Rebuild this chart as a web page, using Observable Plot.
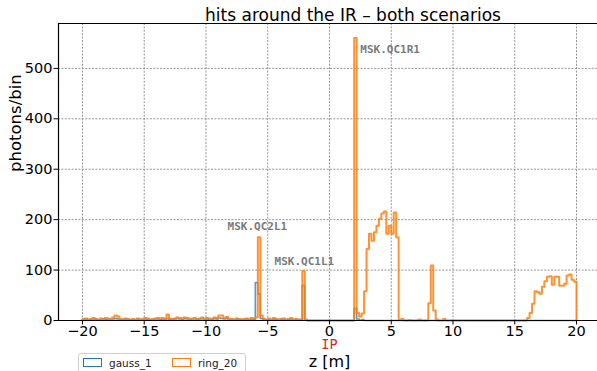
<!DOCTYPE html>
<html>
<head>
<meta charset="utf-8">
<script src="https://cdn.jsdelivr.net/npm/d3@7"></script>
<script src="https://cdn.jsdelivr.net/npm/@observablehq/plot@0.6"></script>
<style>
  body { margin: 0; background: white; overflow: hidden; }
  #wrap { position: relative; width: 597px; height: 371px; }
  #legend { position: absolute; left: 78px; top: 353px; width: 166px; height: 24px;
    border: 1px solid #d0d0d0; border-radius: 3px; background: rgba(255,255,255,0.8);
    font-family: "DejaVu Sans"; font-size: 10.5px; color: #222; }
  .patch { position: absolute; top: 4px; width: 17px; height: 7px; border-width: 1.6px; border-style: solid; }
  .lab { position: absolute; top: 3px; }
</style>
</head>
<body>
<div id="wrap"></div>
<script>
// histogram bins: 0.2 m wide from -20 m to 20 m (200 bins)
const binLo = -20, binHi = 20, nBins = 200;
const seriesNames = ["gauss_1", "ring_20"];
const seriesColors = ["#1f77b4", "#ff7f0e"];

// photons per bin, ring_20 (rows of 10 bins = 2 m)
const ring20 = [
  3,4,2,3,5,3,2,4,3,5,
  4,3,6,10,8,3,2,4,3,2,
  3,2,4,2,3,5,4,2,3,4,
  5,4,5,3,12,4,3,4,6,5,
  4,6,5,3,4,5,3,4,6,3,
  5,4,3,6,5,10,10,5,7,3,
  3,2,4,3,2,3,4,2,5,4,
  6,165,10,3,2,4,2,5,3,2,
  3,4,2,3,5,2,3,2,2,98,
  2,0,0,0,0,0,0,0,0,0,
  0,0,0,0,0,0,0,0,0,0,
  560,15,8,14,58,142,172,158,175,188,
  202,212,216,172,188,172,214,165,1,3,
  0,0,1,0,0,0,2,0,0,0,
  34,109,20,2,0,0,3,0,0,0,
  0,0,0,0,0,0,0,0,0,0,
  0,0,0,0,0,0,0,0,0,0,
  0,0,0,0,0,0,0,0,0,0,
  5,15,33,58,56,53,67,78,87,88,
  71,87,87,69,69,73,89,91,81,77
];
// photons per bin, gauss_1
const gauss1 = [
  2,3,1,2,3,2,1,2,3,2,
  3,2,3,4,3,2,1,3,2,1,
  2,1,3,2,2,3,2,1,2,3,
  3,2,3,2,4,2,2,3,4,3,
  2,4,3,2,3,3,2,3,4,2,
  3,2,2,4,3,5,4,3,4,2,
  2,1,3,2,1,2,3,1,3,2,
  75,53,4,2,1,2,1,3,2,1,
  2,3,1,2,3,1,2,1,2,69,
  1,0,0,0,0,0,0,0,0,0,
  0,0,0,0,0,0,0,0,0,0,
  24,3,1,2,0,0,0,0,0,0,
  0,0,0,0,0,0,0,0,0,0,
  0,0,0,0,0,0,0,0,0,0,
  0,0,0,0,0,0,0,0,0,0,
  0,0,0,0,0,0,0,0,0,0,
  0,0,0,0,0,0,0,0,0,0,
  0,0,0,0,0,0,0,0,0,0,
  0,0,0,0,0,0,0,0,0,0,
  0,0,0,0,0,0,0,0,0,0
];

const xTicks = [-20, -15, -10, -5, 0, 5, 10, 15, 20];
const yTicks = [0, 100, 200, 300, 400, 500];

const annLabels = ["MSK.QC1R1", "MSK.QC2L1", "MSK.QC1L1"];
const annZ = [2.5, -8.25, -4.45];
const annY = [531, 180, 111];

const titleText = "hits around the IR – both scenarios";
const xLabel = "z [m]";
const yLabel = "photons/bin";
const ipLabel = "IP";

// build step outlines
function stepPoints(vals) {
  const w = (binHi - binLo) / nBins;
  const pts = [{x: binLo, y: 0}];
  vals.forEach((v, i) => pts.push({x: +(binLo + i * w).toFixed(3), y: v}));
  pts.push({x: binHi, y: vals[vals.length - 1]});
  pts.push({x: binHi, y: 0});
  return pts;
}
const gaussPts = stepPoints(gauss1);
const ringPts = stepPoints(ring20);
const annotations = annLabels.map((t, i) => ({t, x: annZ[i], y: annY[i]}));

const xDom = [-21.94, 21.70];
const yDom = [0, 589];
const fmt = d => d < 0 ? "\u2212" + Math.abs(d) : String(d);
const gridStyle = {stroke: "#7a7a7a", strokeOpacity: 1, strokeWidth: 0.8, strokeDasharray: "2,1.4"};

const chart = Plot.plot({
  width: 597, height: 371,
  marginTop: 23, marginLeft: 58, marginRight: 0, marginBottom: 51,
  x: {domain: xDom},
  y: {domain: yDom},
  style: {fontFamily: "DejaVu Sans", fontSize: "14px", color: "black", background: "white", overflow: "visible"},
  marks: [
    Plot.gridX(xTicks, gridStyle),
    Plot.gridY(yTicks.slice(1), gridStyle),
    Plot.line(gaussPts, {x: "x", y: "y", curve: "step-after", stroke: seriesColors[0], strokeWidth: 1.7, strokeOpacity: 0.75}),
    Plot.line(ringPts, {x: "x", y: "y", curve: "step-after", stroke: seriesColors[1], strokeWidth: 2, strokeOpacity: 0.85}),
    Plot.ruleY([yDom[0]], {stroke: "black", strokeWidth: 1.2}),
    Plot.ruleY([yDom[1]], {stroke: "black", strokeWidth: 1.2}),
    Plot.ruleX([xDom[0]], {stroke: "black", strokeWidth: 1.2}),
    Plot.axisX(xTicks, {tickSize: 4.5, tickPadding: 0.5, fontSize: 14.5, tickFormat: fmt, label: null}),
    Plot.axisY(yTicks, {tickSize: 4.5, tickPadding: 1.5, fontSize: 14.5, tickFormat: fmt, label: null}),
    Plot.text(annotations, {x: "x", y: "y", text: "t", textAnchor: "start", lineAnchor: "bottom",
      fontFamily: "DejaVu Sans Mono", fontSize: 11, fontWeight: "bold", fill: "#7a7a7a"}),
    Plot.text([titleText], {frameAnchor: "top", lineAnchor: "bottom", dy: -3, dx: 25, fontSize: 17}),
    Plot.text([yLabel], {frameAnchor: "left", rotate: -90, dx: -43, fontSize: 16.5}),
    Plot.text([xLabel], {frameAnchor: "bottom", lineAnchor: "bottom", dy: 46, dx: 1.5, fontSize: 16}),
    Plot.text([{x: 0, t: ipLabel}], {x: "x", text: "t", frameAnchor: "bottom", lineAnchor: "bottom", dy: 28,
      fontFamily: "DejaVu Sans Mono", fontSize: 13.5, fill: "#d62728"})
  ]
});

const wrap = document.getElementById("wrap");
wrap.appendChild(chart);

const legend = document.createElement("div");
legend.id = "legend";
const patchX = [4, 93], labX = [30, 119];
seriesNames.forEach((name, i) => {
  const p = document.createElement("div");
  p.className = "patch";
  p.style.left = patchX[i] + "px";
  p.style.borderColor = seriesColors[i];
  legend.appendChild(p);
  const l = document.createElement("div");
  l.className = "lab";
  l.style.left = labX[i] + "px";
  l.textContent = name;
  legend.appendChild(l);
});
wrap.appendChild(legend);
</script>
</body>
</html>
